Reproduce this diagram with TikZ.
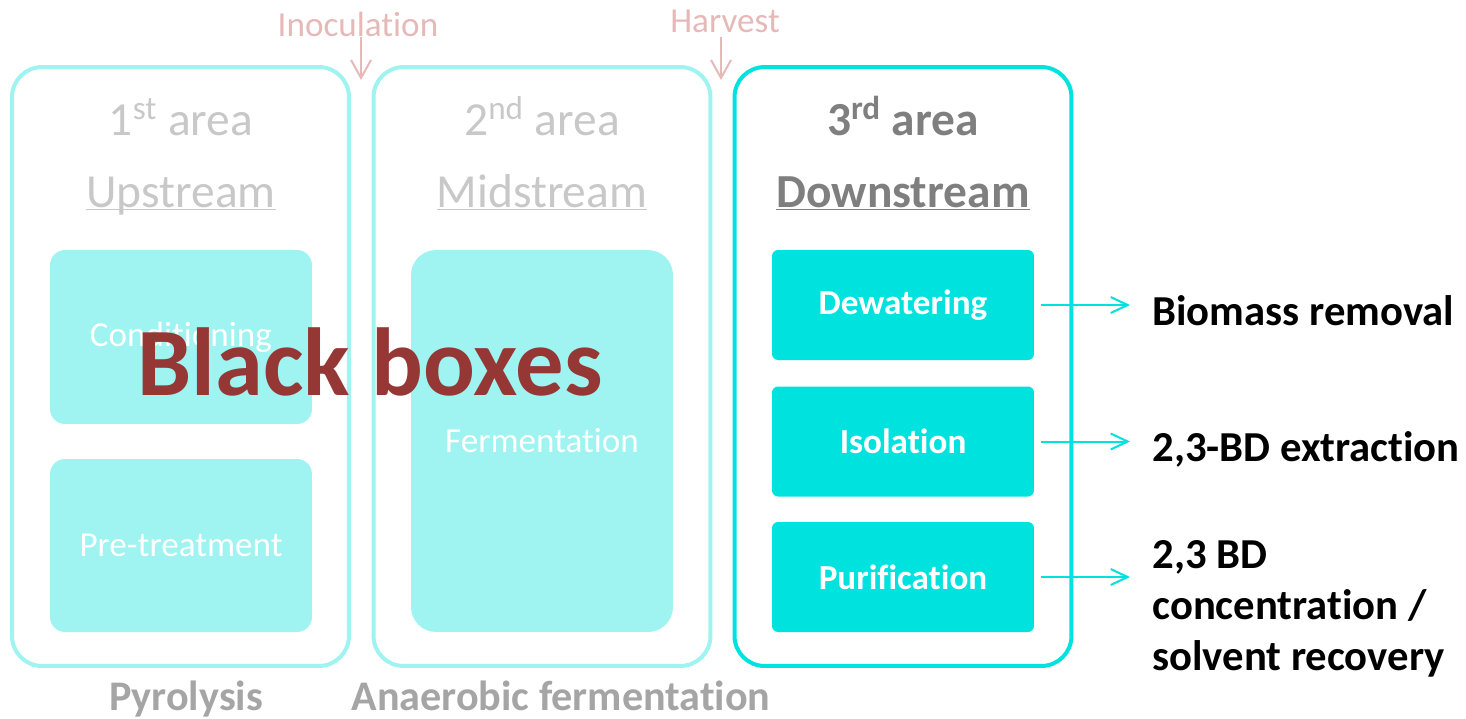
\documentclass[tikz,border=0pt]{standalone}
\usepackage{fontspec}
\setmainfont{Carlito}[Ligatures=NoCommon]
\usepackage{xcolor}
\usetikzlibrary{arrows,arrows.meta}
\definecolor{paleteal}{HTML}{9FF3F0}
\definecolor{brightteal}{HTML}{00E2DE}
\definecolor{softgray}{HTML}{C8C8C8}
\definecolor{midgray}{HTML}{A5A5A5}
\definecolor{deepgray}{HTML}{7F7F7F}
\definecolor{rosy}{HTML}{E6B9B8}
\definecolor{brick}{HTML}{953735}
\tikzstyle{area} = [draw, line width=0.08cm, rounded corners=0.6cm, minimum width=6.74cm, minimum height=11.98cm]
\tikzstyle{stage} = [text=white, font=\fontsize{20}{24}\selectfont, minimum width=5.24cm, inner sep=0]
\tikzstyle{stagebold} = [stage, fill=brightteal, rounded corners=0.12cm, minimum height=2.2cm, font=\fontsize{20}{24}\selectfont\bfseries]
\tikzstyle{title} = [anchor=base, inner sep=0, font=\fontsize{27}{32}\selectfont]
\tikzstyle{result} = [inner sep=0, align=left, font=\fontsize{24.3}{29}\selectfont\bfseries]
\tikzstyle{feed} = [draw=rosy, line width=0.04cm, -{Straight Barb[length=0.36cm,width=0.4cm]}]
\tikzstyle{outflow} = [draw=brightteal, line width=0.04cm, shorten <=0.14cm, shorten >=0.44cm, -{Straight Barb[length=0.34cm,width=0.32cm]}]

\begin{document}
\begin{tikzpicture}[x=0.02cm,y=-0.02cm]
\useasboundingbox (0,0) rectangle (1466,718);
% the three areas
\node[area,draw=paleteal] (up) at (180.5,366.5) {};
\node[area,draw=paleteal] (mid) at (542,366.5) {};
\node[area,draw=brightteal] (down) at (903,366.5) {};
% titles
\node[title,text=softgray] (upnum) at (181,135) {1\textsuperscript{st} area};
\node[title,text=softgray] (upname) at (181,207) {\underline{\smash{Upstream}}};
\node[title,text=softgray] (midnum) at (542,135) {2\textsuperscript{nd} area};
\node[title,text=softgray] (midname) at (542,207) {\underline{\smash{Midstream}}};
\node[title,text=deepgray,font=\fontsize{27}{32}\selectfont\bfseries] (downnum) at (903,135) {3\textsuperscript{rd} area};
\node[title,text=deepgray,font=\fontsize{27}{32}\selectfont\bfseries] (downname) at (903,207) {\underline{\smash{Downstream}}};
% steps inside each area
\node[stage,fill=paleteal,rounded corners=0.3cm,minimum height=3.48cm] (cond) at (181,337) {Conditioning};
\node[stage,fill=paleteal,rounded corners=0.3cm,minimum height=3.46cm] (pretreat) at (181,545.5) {Pre-treatment};
\node[stage,fill=paleteal,rounded corners=0.5cm,minimum height=7.64cm] (ferm) at (542,441) {Fermentation};
\node[stagebold] (dewat) at (903,305) {Dewatering};
\node[stagebold] (isol) at (903,441.5) {Isolation};
\node[stagebold] (purif) at (903,577) {Purification};
% outputs of the downstream steps
\node[result,anchor=base west] (biomass) at (1152,325) {Biomass removal};
\node[result,anchor=base west] (extract) at (1152,461) {2,3-BD extraction};
\node[result,anchor=west] (recov) at (1152,609) {2,3 BD\\concentration /\\solvent recovery};
\draw[outflow] (dewat.east) -- (dewat.east -| biomass.west);
\draw[outflow] (isol.east) -- (isol.east -| extract.west);
\draw[outflow] (purif.east) -- (purif.east -| recov.west);
% transfers between areas
\node[anchor=base,inner sep=0,text=rosy,font=\fontsize{20}{24}\selectfont] (inoc) at (358,36) {Inoculation};
\node[anchor=base,inner sep=0,text=rosy,font=\fontsize{20}{24}\selectfont] (harv) at (725,32) {Harvest};
\coordinate (inocend) at (361,80);
\coordinate (harvend) at (721,80);
\draw[feed] (inoc.south -| inocend) -- (inocend);
\draw[feed] (harvend |- 0,37) -- (harvend);
% process names
\node[anchor=base,inner sep=0,text=midgray,font=\fontsize{24}{29}\selectfont\bfseries] (pyro) at (186,710) {Pyrolysis};
\node[anchor=base,inner sep=0,text=midgray,font=\fontsize{24}{29}\selectfont\bfseries] (anaer) at (561,710) {Anaerobic fermentation};
\node[text=brick,font=\fontsize{55}{62}\selectfont\bfseries] (blackbox) at (370,362) {Black boxes};
\end{tikzpicture}
\end{document}
